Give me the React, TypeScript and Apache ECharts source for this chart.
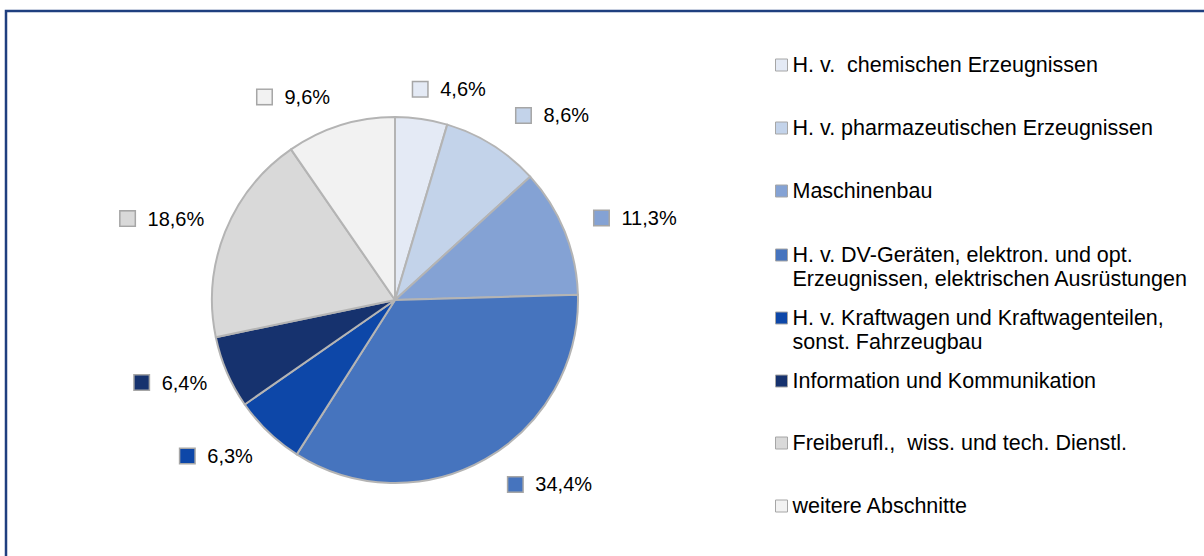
import React, { useEffect, useRef } from 'react';
import * as echarts from 'echarts';

const categories = [
  'H. v.  chemischen Erzeugnissen',
  'H. v. pharmazeutischen Erzeugnissen',
  'Maschinenbau',
  'H. v. DV-Geräten, elektron. und opt. Erzeugnissen, elektrischen Ausrüstungen',
  'H. v. Kraftwagen und Kraftwagenteilen, sonst. Fahrzeugbau',
  'Information und Kommunikation',
  'Freiberufl.,  wiss. und tech. Dienstl.',
  'weitere Abschnitte',
];
const legendLines = [
  ['H. v.  chemischen Erzeugnissen'],
  ['H. v. pharmazeutischen Erzeugnissen'],
  ['Maschinenbau'],
  ['H. v. DV-Geräten, elektron. und opt.', 'Erzeugnissen, elektrischen Ausrüstungen'],
  ['H. v. Kraftwagen und Kraftwagenteilen,', 'sonst. Fahrzeugbau'],
  ['Information und Kommunikation'],
  ['Freiberufl.,  wiss. und tech. Dienstl.'],
  ['weitere Abschnitte'],
];
const values = [4.6, 8.6, 11.3, 34.4, 6.3, 6.4, 18.6, 9.6];
const sliceColors = ['#E4EAF5', '#C3D3EA', '#84A2D4', '#4674BE', '#0D47A8', '#16326E', '#D9D9D9', '#F2F2F2'];

// layout constants (first-line centre of each legend entry; label nudges in px)
const legendCenters = [65, 128, 191, 255, 318, 381, 443, 506];
const labelNudge = [
  [19, 6], [27, 1], [8, 0], [31, -6], [-8, -2], [2, -4], [1, 0], [-28, 6],
];

const fmt = (v: number) => v.toFixed(1).replace('.', ',') + '%';

export default function App() {
  const ref = useRef<HTMLDivElement>(null);
  useEffect(() => {
    const chart = echarts.init(ref.current!, null, { renderer: 'svg' });
    const total = values.reduce((a, b) => a + b, 0);
    const mids: number[] = [];
    let acc = 0;
    values.forEach((v) => {
      mids.push(((acc + v / 2) / total) * 2 * Math.PI);
      acc += v;
    });
    const cx = 395, cy = 300, R = 183, off = 26;
    const font = 'Liberation Sans, Arial, sans-serif';

    const legends = categories.map((name, i) => {
      const two = legendLines[i].length > 1;
      return {
        data: [name],
        orient: 'vertical',
        left: 775,
        top: two ? legendCenters[i] - 36 : legendCenters[i] - 12,
        padding: 0,
        itemWidth: 12,
        itemHeight: 12,
        icon: 'rect',
        selectedMode: false,
        itemStyle: { borderColor: '#A6A6A6', borderWidth: 1 },
        formatter: () => (two ? '\n' : '') + legendLines[i].join('\n'),
        textStyle: {
          fontSize: 21.5,
          fontFamily: font,
          color: '#000',
          lineHeight: 24,
        },
      };
    });

    chart.setOption({
      animation: false,
      backgroundColor: '#fff',
      graphic: [
        {
          type: 'rect',
          silent: true,
          shape: { x: 6, y: 11, width: 1230, height: 580 },
          style: { fill: 'none', stroke: '#1F3F7F', lineWidth: 2.5 },
        },
      ],
      legend: legends,
      series: [
        {
          type: 'pie',
          center: [cx, cy],
          radius: R,
          startAngle: 90,
          clockwise: true,
          avoidLabelOverlap: false,
          labelLine: { show: false },
          itemStyle: { borderColor: '#B4B4B4', borderWidth: 2 },
          emphasis: { disabled: true },
          data: values.map((v, i) => ({
            name: categories[i],
            value: v,
            itemStyle: { color: sliceColors[i] },
            label: {
              show: true,
              position: 'outside',
              formatter: '{s|}{t|' + fmt(v) + '}',
              rich: {
                s: {
                  width: 14,
                  height: 14,
                  backgroundColor: sliceColors[i],
                  borderColor: '#A6A6A6',
                  borderWidth: 1.5,
                },
                t: {
                  fontSize: 20,
                  fontFamily: font,
                  color: '#000',
                  padding: [0, 0, 0, 13],
                },
              },
            },
          })),
          labelLayout: (params: any) => {
            const i = params.dataIndex;
            const th = mids[i];
            const w = params.labelRect.width;
            const h = params.labelRect.height;
            const px = cx + (R + off) * Math.sin(th);
            const py = cy - (R + off) * Math.cos(th);
            return {
              x: px + (w / 2) * Math.sin(th) + labelNudge[i][0],
              y: py - (h / 2) * Math.cos(th) + labelNudge[i][1],
              align: 'center',
              verticalAlign: 'middle',
            };
          },
        },
      ],
    });
    return () => chart.dispose();
  }, []);
  return <div ref={ref} style={{ position: 'absolute', left: 0, top: 0, width: 1204, height: 556 }} />;
}
